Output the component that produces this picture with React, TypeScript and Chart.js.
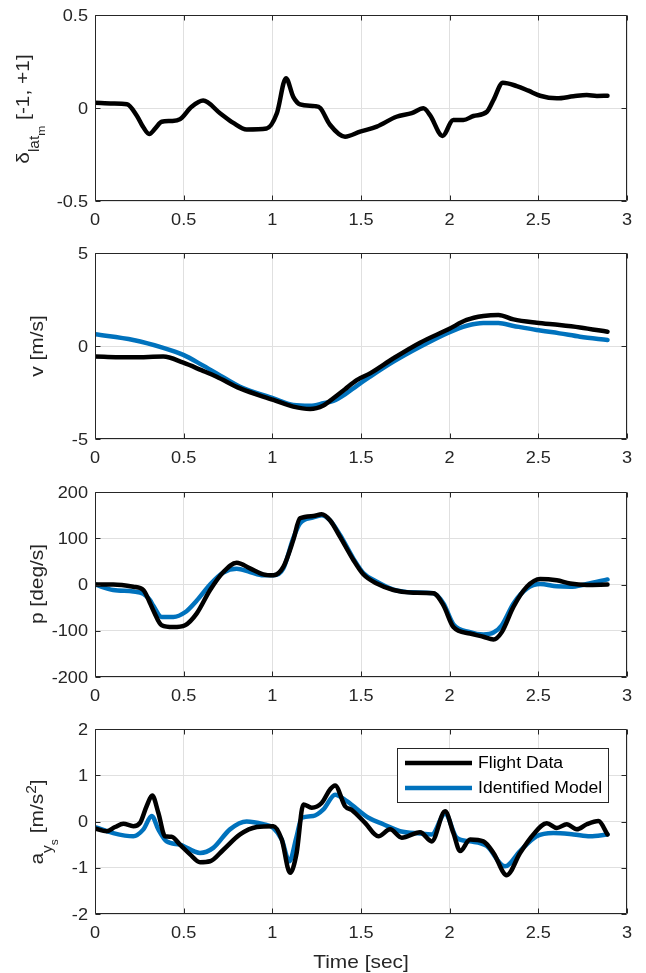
import { useEffect, useRef } from "react";
import { Chart, registerables } from "chart.js";

Chart.register(...registerables);

// ---- figure geometry ----
const W = 646;
const H = 973;
const PLOT_LEFT = 95;
const PLOT_RIGHT = 627;

const FONT = '"Liberation Sans", Arial, Helvetica, sans-serif';
const SX = 1.1; // horizontal glyph stretch (wide Helvetica look)
const AXIS = "#262626";
const GRID = "#e0e0e0";
const FLIGHT_COLOR = "#000000";
const MODEL_COLOR = "#0072BD";
const TICK_FONT = 16.5;
const LABEL_FONT = 19;

// ---- shared time axis ----
const timeTicks = [0, 0.5, 1, 1.5, 2, 2.5, 3];
const timeTickLabels = ["0", "0.5", "1", "1.5", "2", "2.5", "3"];
const seriesNames = ["Flight Data", "Identified Model"];

// ---- lateral stick input ----
const deltaTime = [
  0, 0.1, 0.18, 0.235, 0.27, 0.306, 0.34, 0.376, 0.43, 0.48, 0.545, 0.61, 0.705, 0.78, 0.855,
  0.968, 1.025, 1.077, 1.118, 1.156, 1.24, 1.27, 1.325, 1.41, 1.495, 1.589, 1.7, 1.786, 1.852,
  1.89, 1.96, 2.02, 2.077, 2.134, 2.21, 2.247, 2.3, 2.378, 2.444, 2.51, 2.604, 2.698, 2.773,
  2.83, 2.89,
];
const deltaLat = [
  0.028, 0.024, 0.02, -0.04, -0.1, -0.14, -0.11, -0.074, -0.07, -0.06, 0.007, 0.04, -0.028,
  -0.08, -0.115, -0.11, -0.03, 0.16, 0.06, 0.02, 0.01, 0.0, -0.09, -0.154, -0.127, -0.1, -0.047,
  -0.028, -0.002, -0.04, -0.15, -0.065, -0.065, -0.043, -0.02, 0.043, 0.136, 0.118, 0.093,
  0.066, 0.052, 0.063, 0.07, 0.065, 0.066,
];
const deltaTicks = [-0.5, 0, 0.5];
const deltaTickLabels = ["-0.5", "0", "0.5"];

// ---- lateral velocity v ----
const vTime = [
  0, 0.216, 0.385, 0.498, 0.6, 0.686, 0.818, 1.006, 1.118, 1.213, 1.288, 1.344, 1.41, 1.476,
  1.551, 1.683, 1.833, 1.993, 2.096, 2.19, 2.275, 2.36, 2.49, 2.62, 2.735, 2.89,
];
const vFlight = [
  -0.57, -0.61, -0.57, -0.9, -1.3, -1.65, -2.28, -2.9, -3.26, -3.39, -3.2, -2.81, -2.32, -1.83,
  -1.47, -0.66, 0.18, 0.9, 1.4, 1.61, 1.67, 1.43, 1.25, 1.13, 1.0, 0.77,
];
const vModel = [
  0.63, 0.32, -0.1, -0.48, -1.0, -1.47, -2.19, -2.81, -3.17, -3.21, -3.08, -2.95, -2.6, -2.14,
  -1.65, -0.84, -0.04, 0.72, 1.09, 1.24, 1.23, 1.08, 0.86, 0.68, 0.5, 0.32,
];
const vTicks = [-5, 0, 5];
const vTickLabels = ["-5", "0", "5"];

// ---- roll rate p ----
const pTime = [
  0, 0.103, 0.216, 0.273, 0.31, 0.329, 0.376, 0.442, 0.508, 0.573, 0.649, 0.724, 0.799, 0.874,
  0.949, 1.006, 1.062, 1.118, 1.156, 1.231, 1.278, 1.325, 1.382, 1.457, 1.513, 1.589, 1.683,
  1.795, 1.908, 1.965, 2.021, 2.115, 2.19, 2.247, 2.294, 2.36, 2.435, 2.51, 2.604, 2.679, 2.773,
  2.89,
];
const pFlight = [
  0, 0, -5, -12, -40, -56, -88, -92, -88, -63, -12, 27, 47, 35, 22, 20, 38, 96, 143, 148, 152,
  139, 103, 53, 22, 2, -12, -18, -19, -45, -92, -106, -113, -119, -103, -48, -5, 12, 9, 2, -1, 0,
];
const pModel = [
  0, -12, -15, -20, -34, -46, -70, -70, -60, -35, 0, 26, 34, 27, 20, 20, 35, 100, 132, 145, 150,
  139, 107, 56, 25, 6, -11, -17, -19, -41, -86, -103, -108, -104, -88, -41, -9, 1, -4, -5, 1, 11,
];
const pTicks = [-200, -100, 0, 100, 200];
const pTickLabels = ["-200", "-100", "0", "100", "200"];

// ---- lateral acceleration a_ys ----
const accFlightTime = [
  0, 0.066, 0.113, 0.16, 0.216, 0.254, 0.291, 0.323, 0.357, 0.395, 0.432, 0.479, 0.536, 0.592,
  0.649, 0.724, 0.818, 0.912, 1.006, 1.053, 1.1, 1.137, 1.175, 1.222, 1.278, 1.325, 1.354, 1.41,
  1.448, 1.523, 1.598, 1.664, 1.73, 1.833, 1.899, 1.974, 2.021, 2.059, 2.115, 2.19, 2.247, 2.322,
  2.397, 2.472, 2.548, 2.604, 2.66, 2.717, 2.773, 2.839, 2.89,
];
const accFlight = [
  -0.15, -0.21, -0.12, -0.05, -0.1, -0.03, 0.33, 0.56, 0.19, -0.32, -0.33, -0.5, -0.71, -0.88,
  -0.86, -0.61, -0.28, -0.12, -0.1, -0.39, -1.11, -0.68, 0.37, 0.3, 0.4, 0.69, 0.78, 0.33, 0.25,
  -0.03, -0.32, -0.17, -0.35, -0.23, -0.43, 0.22, -0.25, -0.64, -0.39, -0.43, -0.68, -1.16,
  -0.68, -0.28, -0.04, -0.14, -0.06, -0.17, -0.06, 0.01, -0.28,
];
const accModelTime = [
  0, 0.103, 0.216, 0.273, 0.32, 0.357, 0.404, 0.479, 0.592, 0.667, 0.761, 0.855, 0.949, 1.006,
  1.053, 1.096, 1.137, 1.166, 1.231, 1.288, 1.354, 1.42, 1.542, 1.626, 1.72, 1.833, 1.899, 1.974,
  2.04, 2.115, 2.209, 2.312, 2.397, 2.49, 2.585, 2.698, 2.792, 2.89,
];
const accModel = [
  -0.12, -0.25, -0.32, -0.17, 0.12, -0.17, -0.43, -0.5, -0.68, -0.57, -0.17, 0.0, -0.06, -0.14,
  -0.39, -0.86, -0.32, 0.08, 0.12, 0.26, 0.58, 0.44, 0.08, -0.06, -0.21, -0.26, -0.28, 0.17,
  -0.35, -0.43, -0.53, -0.97, -0.64, -0.32, -0.25, -0.28, -0.32, -0.28,
];
const accTicks = [-2, -1, 0, 1, 2];
const accTickLabels = ["-2", "-1", "0", "1", "2"];

// ---- panel descriptions ----
type Seg = { t: string; size: number; dy: number };
type Series = { xs: number[]; ys: number[]; color: string; name: string };
type Panel = {
  top: number;
  bottom: number;
  ticks: number[];
  tickLabels: string[];
  label: Seg[];
  labelX: number;
  labelY: number;
  series: Series[];
  xTitle?: string;
  legend?: boolean;
};

const seg = (t: string, size = LABEL_FONT, dy = 0): Seg => ({ t, size, dy });

const panels: Panel[] = [
  {
    top: 15,
    bottom: 201,
    ticks: deltaTicks,
    tickLabels: deltaTickLabels,
    label: [seg("δ"), seg("lat", 14, 10), seg("m", 11, 16), seg(" [-1, +1]")],
    labelX: 29,
    labelY: 109,
    series: [{ xs: deltaTime, ys: deltaLat, color: FLIGHT_COLOR, name: seriesNames[0] }],
  },
  {
    top: 253,
    bottom: 439,
    ticks: vTicks,
    tickLabels: vTickLabels,
    label: [seg("v [m/s]")],
    labelX: 43,
    labelY: 346,
    series: [
      { xs: vTime, ys: vFlight, color: FLIGHT_COLOR, name: seriesNames[0] },
      { xs: vTime, ys: vModel, color: MODEL_COLOR, name: seriesNames[1] },
    ],
  },
  {
    top: 492,
    bottom: 677,
    ticks: pTicks,
    tickLabels: pTickLabels,
    label: [seg("p [deg/s]")],
    labelX: 43,
    labelY: 584,
    series: [
      { xs: pTime, ys: pFlight, color: FLIGHT_COLOR, name: seriesNames[0] },
      { xs: pTime, ys: pModel, color: MODEL_COLOR, name: seriesNames[1] },
    ],
  },
  {
    top: 729,
    bottom: 914,
    ticks: accTicks,
    tickLabels: accTickLabels,
    label: [
      seg("a"),
      seg("y", 14, 9),
      seg("s", 11, 15),
      seg(" [m/s"),
      seg("2", 14, -7),
      seg("]"),
    ],
    labelX: 43,
    labelY: 822,
    series: [
      { xs: accFlightTime, ys: accFlight, color: FLIGHT_COLOR, name: seriesNames[0] },
      { xs: accModelTime, ys: accModel, color: MODEL_COLOR, name: seriesNames[1] },
    ],
    xTitle: "Time [sec]",
    legend: true,
  },
];

// ---- text helpers (stretched Helvetica-like text, optional sub/superscripts) ----
function drawText(
  ctx: CanvasRenderingContext2D,
  text: string,
  x: number,
  y: number,
  size: number,
  align: CanvasTextAlign,
  baseline: CanvasTextBaseline
) {
  ctx.save();
  ctx.translate(x, y);
  ctx.scale(SX, 1);
  ctx.font = `${size}px ${FONT}`;
  ctx.textAlign = align;
  ctx.textBaseline = baseline;
  ctx.fillText(text, 0, 0);
  ctx.restore();
}

function drawRich(ctx: CanvasRenderingContext2D, segs: Seg[], x: number, y: number, rotated: boolean) {
  const widths = segs.map((s) => {
    ctx.font = `${s.size}px ${FONT}`;
    return ctx.measureText(s.t).width;
  });
  const total = widths.reduce((a, b) => a + b, 0);
  ctx.save();
  ctx.translate(x, y);
  if (rotated) ctx.rotate(-Math.PI / 2);
  ctx.scale(SX, 1);
  ctx.textAlign = "left";
  ctx.textBaseline = "alphabetic";
  let cx = -total / 2;
  segs.forEach((s, i) => {
    ctx.font = `${s.size}px ${FONT}`;
    ctx.fillText(s.t, cx, s.dy);
    cx += widths[i];
  });
  ctx.restore();
}

// ---- per-panel decoration: box, inward ticks, labels, legend ----
function decorPlugin(panel: Panel) {
  return {
    id: "panelDecor",
    afterDraw(chart: Chart) {
      const { ctx, chartArea: a } = chart;
      const xs = chart.scales.x;
      const ys = chart.scales.y;
      const L = Math.round(a.left) + 0.5;
      const R = Math.round(a.right) - 0.5;
      const T = Math.round(a.top) + 0.5;
      const B = Math.round(a.bottom) - 0.5;
      const tl = 5;

      ctx.save();
      ctx.strokeStyle = AXIS;
      ctx.lineWidth = 1;
      ctx.beginPath();
      ctx.rect(L, T, R - L, B - T);
      timeTicks.forEach((v) => {
        const px = Math.round(xs.getPixelForValue(v)) + 0.5;
        ctx.moveTo(px, B);
        ctx.lineTo(px, B - tl);
        ctx.moveTo(px, T);
        ctx.lineTo(px, T + tl);
      });
      panel.ticks.forEach((v) => {
        const py = Math.round(ys.getPixelForValue(v)) + 0.5;
        ctx.moveTo(L, py);
        ctx.lineTo(L + tl, py);
        ctx.moveTo(R, py);
        ctx.lineTo(R - tl, py);
      });
      ctx.stroke();

      ctx.fillStyle = AXIS;
      timeTicks.forEach((v, i) => {
        drawText(ctx, timeTickLabels[i], xs.getPixelForValue(v), a.bottom + 23.5, TICK_FONT, "center", "alphabetic");
      });
      panel.ticks.forEach((v, i) => {
        drawText(ctx, panel.tickLabels[i], a.left - 7, ys.getPixelForValue(v) + 1, TICK_FONT, "right", "middle");
      });

      drawRich(ctx, panel.label, panel.labelX, panel.labelY, true);

      if (panel.xTitle) {
        drawText(ctx, panel.xTitle, (a.left + a.right) / 2, 968, LABEL_FONT, "center", "alphabetic");
      }

      if (panel.legend) {
        const bx = 397.5;
        const by = 748.5;
        const bw = 211;
        const bh = 54;
        ctx.fillStyle = "#ffffff";
        ctx.fillRect(bx, by, bw, bh);
        ctx.strokeStyle = AXIS;
        ctx.lineWidth = 1;
        ctx.strokeRect(bx, by, bw, bh);
        panel.series.forEach((s, i) => {
          const ly = 763 + i * 25;
          ctx.strokeStyle = s.color;
          ctx.lineWidth = 4.5;
          ctx.lineCap = "butt";
          ctx.beginPath();
          ctx.moveTo(405, ly);
          ctx.lineTo(472, ly);
          ctx.stroke();
          ctx.fillStyle = "#000000";
          drawText(ctx, s.name, 478, ly + 1, 16, "left", "middle");
        });
      }
      ctx.restore();
    },
  };
}

function PanelChart({ panel }: { panel: Panel }) {
  const ref = useRef<HTMLCanvasElement>(null);

  useEffect(() => {
    const canvas = ref.current;
    if (!canvas) return;
    const chart = new Chart(canvas, {
      type: "line",
      data: {
        datasets: panel.series.map((s) => ({
          label: s.name,
          data: s.xs.map((x, i) => ({ x, y: s.ys[i] })),
          borderColor: s.color,
          borderWidth: 4.5,
          pointRadius: 0,
          cubicInterpolationMode: "monotone" as const,
          borderCapStyle: "round" as const,
          borderJoinStyle: "round" as const,
          fill: false,
        })),
      },
      options: {
        animation: false,
        responsive: false,
        events: [],
        layout: {
          padding: { left: PLOT_LEFT, right: W - PLOT_RIGHT, top: panel.top, bottom: H - panel.bottom },
        },
        plugins: { legend: { display: false }, tooltip: { enabled: false } },
        scales: {
          x: {
            type: "linear",
            min: timeTicks[0],
            max: timeTicks[timeTicks.length - 1],
            afterBuildTicks: (s: any) => {
              s.ticks = timeTicks.map((value) => ({ value }));
            },
            afterFit: (s: any) => {
              s.height = 0;
            },
            ticks: { display: false },
            grid: { color: GRID, lineWidth: 1, drawTicks: false },
            border: { display: false },
          },
          y: {
            type: "linear",
            min: panel.ticks[0],
            max: panel.ticks[panel.ticks.length - 1],
            afterBuildTicks: (s: any) => {
              s.ticks = panel.ticks.map((value) => ({ value }));
            },
            afterFit: (s: any) => {
              s.width = 0;
            },
            ticks: { display: false },
            grid: { color: GRID, lineWidth: 1, drawTicks: false },
            border: { display: false },
          },
        },
      },
      plugins: [decorPlugin(panel)],
    });
    return () => chart.destroy();
  }, [panel]);

  return (
    <canvas
      ref={ref}
      width={W}
      height={H}
      style={{ position: "absolute", left: 0, top: 0, width: W, height: H }}
    />
  );
}

export default function App() {
  return (
    <div style={{ position: "absolute", left: 0, top: 0, width: W, height: H, background: "#ffffff" }}>
      {panels.map((p, i) => (
        <PanelChart key={i} panel={p} />
      ))}
    </div>
  );
}
